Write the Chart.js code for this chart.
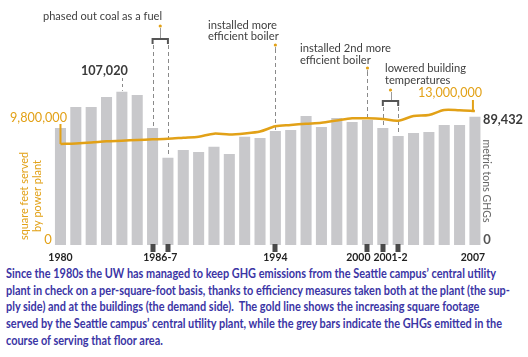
<!DOCTYPE html>
<html><head><meta charset="utf-8">
<script src="https://cdn.jsdelivr.net/npm/chart.js@4/dist/chart.umd.min.js"></script>
<style>
html,body{margin:0;padding:0;background:#fff;}
#wrap{position:relative;width:528px;height:357px;overflow:hidden;background:#fff;}
#c{position:absolute;left:0;top:0;}
#cap{position:absolute;left:6px;top:266px;font-family:Lato,sans-serif;font-weight:bold;font-size:12.5px;line-height:16.7px;color:#3b35a5;white-space:pre;transform-origin:0 0;}
#cap span{display:inline-block;}
</style></head><body>
<div id="wrap"><canvas id="c" width="528" height="266"></canvas><div id="cap"></div></div>
<script>
// ---- data ----
const years = ['1980','1981','1982','1983','1984','1985','1986','1987','1988','1989','1990','1991','1992','1993','1994','1995','1996','1997','1998','1999','2000','2001','2002','2003','2004','2005','2006','2007'];
const ghgTons = [81700,96300,96300,103300,107020,104700,81700,60900,66300,64900,68600,63500,75600,74700,79600,80300,90000,82400,88600,85900,87300,81700,76100,78200,78900,83800,83800,89432];
const squareFeet = [9800000,9850000,9940000,10060000,10120000,10190000,10250000,10310000,10410000,10510000,10800000,10720000,10820000,11010000,11510000,11640000,11760000,11860000,12080000,12290000,12290000,12220000,12060000,12510000,12610000,13100000,13070000,13000000];
const tickMarkYears = ['1986','1987','1994','2000','2001','2002'];
const tickLabelTexts = ['1980','1986-7','1994','2000','2001-2','2007'];
const tickLabelFrom  = ['1980','1986','1994','2000','2001','2007'];
const tickLabelTo    = ['1980','1987','1994','2000','2002','2007'];
const eventLines = [['phased out coal as a fuel'],['installed more','efficient boiler'],['installed 2nd more','efficient boiler'],['lowered building','temperatures']];
const eventFrom = ['1986','1994','2000','2001'];
const eventTo   = ['1987','1994','2000','2002'];
const peakLabel = '107,020', peakYear = '1984';
const lastLabel = '89,432', lastYear = '2007';
const sqftStartLabel = '9,800,000', sqftEndLabel = '13,000,000';
const leftTitle = ['square feet served','by power plant'];
const rightTitle = 'metric tons GHGs';
const captionLines = [
 'Since the 1980s the UW has managed to keep GHG emissions from the Seattle campus\u2019 central utility',
 'plant in check on a per-square-foot basis, thanks to efficiency measures taken both at the plant (the sup-',
 'ply side) and at the buildings (the demand side).  The gold line shows the increasing square footage',
 'served by the Seattle campus\u2019 central utility plant, while the grey bars indicate the GHGs emitted in the',
 'course of serving that floor area.'
];

// ---- style ----
const GOLD = '#e2a117', BAR = '#c8c8cb', DARK = '#3a3a3a', TXT = '#404040';
const FONT = 'Lato, "Open Sans", sans-serif';

function txt(ctx, s, x, y, o) {
  ctx.save();
  ctx.font = o.font; ctx.fillStyle = o.color; ctx.textBaseline = 'middle';
  ctx.textAlign = o.align || 'left';
  const m = ctx.measureText(s).width;
  const sx = o.w ? o.w / m : (o.sx || 1);
  ctx.translate(x, y);
  if (o.rot) ctx.rotate(o.rot);
  ctx.scale(sx, 1);
  ctx.fillText(s, 0, 0);
  ctx.restore();
  return sx;
}

const eventLayout = [
  {tx: 43, ty: [16], dotY: 26, brY: 39, w: 119},
  {tx: 208, ty: [25, 36.5], dotY: 45, brY: null, w: 69},
  {tx: 300, ty: [48, 60], dotY: 68, brY: null, w: 91},
  {tx: 385, ty: [68, 80], dotY: 90, brY: 101, w: 81}
];

const annot = {
  id: 'annot',
  beforeDatasetsDraw(chart) {
    const ctx = chart.ctx, xs = chart.scales.x, ys = chart.scales.y;
    eventFrom.forEach((f, k) => {
      const L = eventLayout[k];
      const i0 = years.indexOf(f), i1 = years.indexOf(eventTo[k]);
      ctx.save();
      ctx.strokeStyle = '#8a8a8a'; ctx.lineWidth = 1; ctx.setLineDash([4, 3]);
      const startY = L.brY ? L.brY + 6 : L.dotY + 4;
      [i0, i1].filter((v, j, a) => a.indexOf(v) === j).forEach(i => {
        const x = Math.round(xs.getPixelForValue(i)) + 0.5;
        ctx.beginPath(); ctx.moveTo(x, startY); ctx.lineTo(x, ys.getPixelForValue(ghgTons[i]) - 1); ctx.stroke();
      });
      ctx.restore();
    });
    const ip = years.indexOf(peakYear);
    const xp = Math.round(xs.getPixelForValue(ip)) + 0.5;
    ctx.save(); ctx.strokeStyle = '#8a8a8a'; ctx.lineWidth = 1; ctx.setLineDash([3, 3]);
    ctx.beginPath(); ctx.moveTo(xp, 78); ctx.lineTo(xp, ys.getPixelForValue(ghgTons[ip]) - 1); ctx.stroke();
    ctx.restore();
  },
  afterDatasetsDraw(chart) {
    const ctx = chart.ctx, xs = chart.scales.x, ys = chart.scales.y, y2 = chart.scales.y2;
    const area = chart.chartArea;
    eventFrom.forEach((f, k) => {
      const L = eventLayout[k];
      const i0 = years.indexOf(f), i1 = years.indexOf(eventTo[k]);
      const x0 = xs.getPixelForValue(i0), x1 = xs.getPixelForValue(i1);
      const xm = (x0 + x1) / 2;
      let sx = null;
      eventLines[k].forEach((s, j) => {
        const font = '12px ' + FONT;
        if (sx === null) sx = txt(ctx, s, L.tx, L.ty[j], {font, color: TXT, w: L.w});
        else txt(ctx, s, L.tx, L.ty[j], {font, color: TXT, sx});
      });
      ctx.save();
      ctx.fillStyle = GOLD; ctx.beginPath(); ctx.arc(xm, L.dotY, 1.6, 0, Math.PI * 2); ctx.fill();
      ctx.strokeStyle = '#9a9a9a'; ctx.lineWidth = 1;
      ctx.beginPath(); ctx.moveTo(Math.round(xm) + 0.5, L.dotY + 2); ctx.lineTo(Math.round(xm) + 0.5, L.brY ? L.brY : L.dotY + 4); ctx.stroke();
      if (L.brY) {
        ctx.strokeStyle = '#555'; ctx.lineWidth = 2;
        ctx.beginPath();
        ctx.moveTo(x0, L.brY + 5); ctx.lineTo(x0, L.brY); ctx.lineTo(x1, L.brY); ctx.lineTo(x1, L.brY + 5);
        ctx.stroke();
      }
      ctx.restore();
    });
    const ip = years.indexOf(peakYear);
    txt(ctx, peakLabel, xs.getPixelForValue(ip) + 6, 70, {font: 'bold 14px ' + FONT, color: DARK, align: 'right', w: 47});
    const il = years.indexOf(lastYear);
    txt(ctx, lastLabel, 483, ys.getPixelForValue(ghgTons[il]) + 3, {font: 'bold 14px ' + FONT, color: DARK, w: 40});
    const xs0 = xs.getPixelForValue(0), yl0 = y2.getPixelForValue(squareFeet[0]);
    txt(ctx, sqftStartLabel, 67, 117, {font: '14px ' + FONT, color: GOLD, align: 'right', w: 57});
    ctx.save(); ctx.strokeStyle = GOLD; ctx.lineWidth = 2;
    ctx.beginPath(); ctx.moveTo(xs0, 124); ctx.lineTo(xs0, yl0); ctx.stroke();
    const n = years.length - 1;
    const xe = xs.getPixelForValue(n) - 2, yle = y2.getPixelForValue(squareFeet[n]);
    ctx.beginPath(); ctx.moveTo(xe, 100); ctx.lineTo(xe, yle); ctx.stroke();
    ctx.restore();
    txt(ctx, sqftEndLabel, 450, 92, {font: '14px ' + FONT, color: GOLD, align: 'center', w: 64});
    txt(ctx, '0', 48, 240, {font: '13px ' + FONT, color: GOLD, align: 'center'});
    txt(ctx, '0', 487, 240, {font: 'bold 13px ' + FONT, color: '#555', align: 'center'});
    txt(ctx, leftTitle[0], 24, 196, {font: '12px ' + FONT, color: GOLD, align: 'center', rot: -Math.PI / 2, w: 88});
    txt(ctx, leftTitle[1], 37, 196, {font: '12px ' + FONT, color: GOLD, align: 'center', rot: -Math.PI / 2, w: 72});
    txt(ctx, rightTitle, 487, 181, {font: '12px ' + FONT, color: '#666', align: 'center', rot: Math.PI / 2, w: 83});
    ctx.save(); ctx.fillStyle = '#4a4a4a';
    tickMarkYears.forEach(y => {
      const x = xs.getPixelForValue(years.indexOf(y));
      ctx.fillRect(Math.round(x) - 2.5, area.bottom - 1, 5, 8);
    });
    ctx.restore();
    tickLabelTexts.forEach((s, k) => {
      const a = xs.getPixelForValue(years.indexOf(tickLabelFrom[k]));
      const b = xs.getPixelForValue(years.indexOf(tickLabelTo[k]));
      let x = (a + b) / 2, align = 'center';
      if (s === '2000') { x = a + 3; align = 'right'; }
      if (s === '2007') x = a - 2;
      txt(ctx, s, x, 257.5, {font: 'bold 11px ' + FONT, color: '#222', align, sx: 0.95});
    });
  }
};

new Chart(document.getElementById('c'), {
  type: 'bar',
  data: {
    labels: years,
    datasets: [
      {type: 'line', data: squareFeet, yAxisID: 'y2', borderColor: GOLD, borderWidth: 2.5, pointRadius: 0, tension: 0.3, fill: false, order: 0},
      {type: 'bar', data: ghgTons, yAxisID: 'y', backgroundColor: BAR, categoryPercentage: 1, barPercentage: 0.72, order: 1}
    ]
  },
  options: {
    responsive: false, animation: false,
    layout: {padding: {left: 52.8, right: 45.4, top: 45, bottom: 21}},
    plugins: {legend: {display: false}, tooltip: {enabled: false}},
    scales: {
      x: {display: false, offset: true},
      y: {display: false, min: 0, max: 139600},
      y2: {display: false, min: 0, max: 19400000}
    }
  },
  plugins: [annot]
});

const cap = document.getElementById('cap');
captionLines.forEach(l => { const d = document.createElement('div'); const s = document.createElement('span'); s.textContent = l; d.appendChild(s); cap.appendChild(d); });
const w1 = cap.querySelector('span').getBoundingClientRect().width;
cap.style.transform = 'scaleX(' + (490 / w1) + ')';
</script>
</body></html>
